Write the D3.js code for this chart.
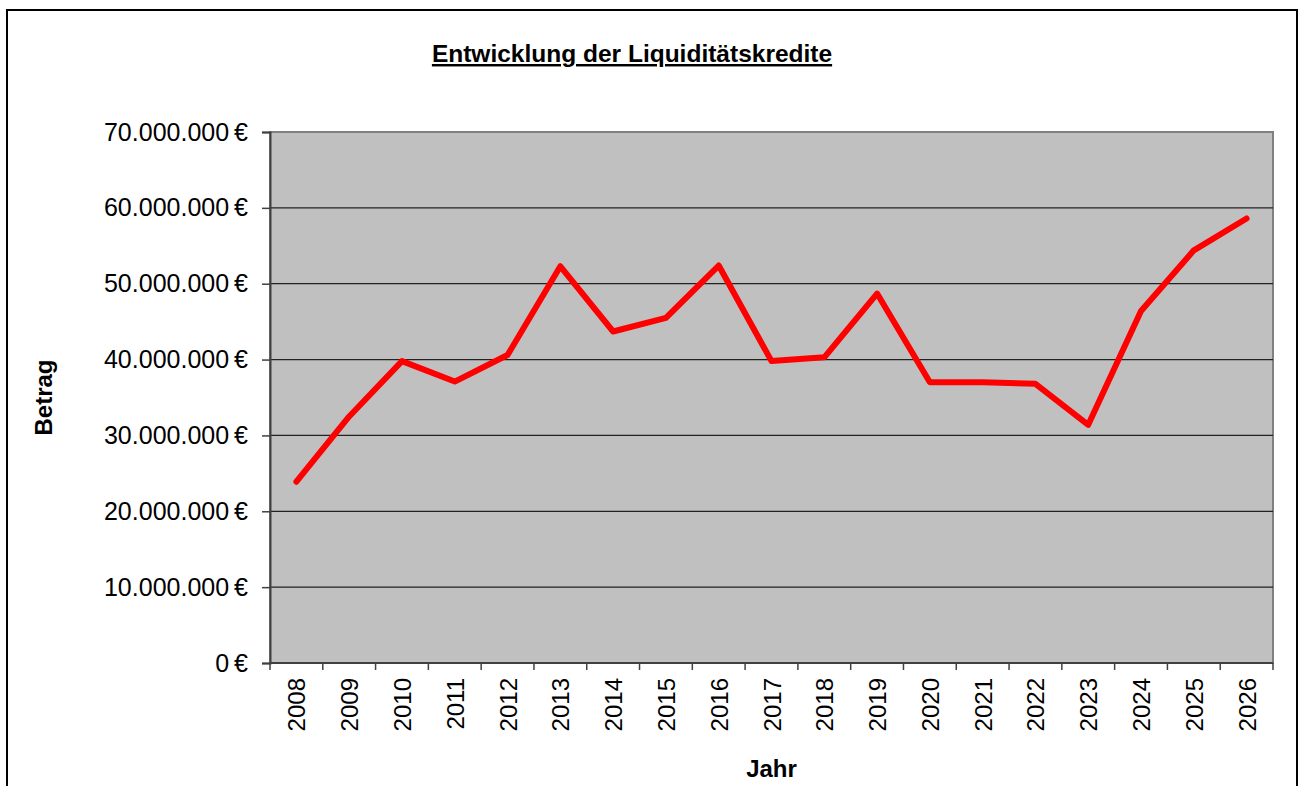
<!DOCTYPE html>
<html>
<head>
<meta charset="utf-8">
<script src="https://cdn.jsdelivr.net/npm/d3@7"></script>
<style>
  body { margin: 0; background: #fff; }
  svg { display: block; font-family: "Liberation Sans", Arial, sans-serif; }
</style>
</head>
<body>
<svg id="chart"></svg>
<script>
// data
let years = ["2008", "2009", "2010", "2011", "2012", "2013", "2014", "2015", "2016", "2017",
  "2018", "2019", "2020", "2021", "2022", "2023", "2024", "2025", "2026"];
let amounts = [23900000, 32500000, 39800000, 37100000, 40600000, 52300000, 43700000, 45500000,
  52400000, 39800000, 40300000, 48700000, 37000000, 37000000, 36800000, 31400000, 46400000,
  54400000, 58600000];
let yTicks = [0, 10000000, 20000000, 30000000, 40000000, 50000000, 60000000, 70000000];

let width = 1303;
let height = 786;
let plot = { left: 270, right: 1273, top: 132, bottom: 663 };

let svg = d3.select("#chart").attr("width", width).attr("height", height);

// outer frame (bottom edge is cut off in the reference)
svg.append("path")
  .attr("d", "M7," + (height + 5) + "V10H1297V" + (height + 5))
  .attr("fill", "none").attr("stroke", "#000").attr("stroke-width", 2);

let de = d3.formatLocale({ decimal: ",", thousands: ".", grouping: [3], currency: ["", " €"] });
let fmt = de.format(",.0f");

let x = d3.scaleBand().domain(years).range([plot.left, plot.right]).padding(0);
let y = d3.scaleLinear().domain([0, 70000000]).range([plot.bottom, plot.top]);

// plot background
svg.append("rect")
  .attr("x", plot.left).attr("y", plot.top)
  .attr("width", plot.right - plot.left).attr("height", plot.bottom - plot.top)
  .attr("fill", "#c0c0c0").attr("stroke", "#808080").attr("stroke-width", 2);

// gridlines
svg.append("g").selectAll("line").data(yTicks.filter(d => d > 0 && d < 70000000)).enter()
  .append("line")
  .attr("x1", plot.left).attr("x2", plot.right)
  .attr("y1", d => y(d)).attr("y2", d => y(d))
  .attr("stroke", "#222").attr("stroke-width", 1.3);

// y axis
let yAxis = svg.append("g")
  .attr("transform", "translate(" + plot.left + ",0)")
  .call(d3.axisLeft(y).tickValues(yTicks).tickSize(8).tickPadding(14)
    .tickFormat(d => fmt(d) + "\u2009€"));
yAxis.select(".domain").attr("stroke", "#404040").attr("stroke-width", 2);
yAxis.selectAll(".tick line").attr("stroke", "#404040").attr("stroke-width", 1.5);
yAxis.selectAll(".tick text").attr("font-size", 25).attr("fill", "#000")
  .attr("font-family", "Liberation Sans, Arial, sans-serif");

// x axis: ticks between categories
let xAxis = svg.append("g")
  .attr("transform", "translate(0," + plot.bottom + ")");
xAxis.append("line")
  .attr("x1", plot.left).attr("x2", plot.right)
  .attr("stroke", "#404040").attr("stroke-width", 2);
xAxis.selectAll("line.tick").data(years.concat(["end"])).enter()
  .append("line").attr("class", "tick")
  .attr("x1", (d, i) => i < years.length ? x(d) : plot.right)
  .attr("x2", (d, i) => i < years.length ? x(d) : plot.right)
  .attr("y1", 0).attr("y2", 7)
  .attr("stroke", "#404040").attr("stroke-width", 1.5);
xAxis.selectAll("text").data(years).enter()
  .append("text")
  .attr("transform", d => "translate(" + (x(d) + x.bandwidth() / 2 + 9) + ",15) rotate(-90)")
  .attr("text-anchor", "end")
  .attr("font-size", 24)
  .text(d => d);

// the line
let line = d3.line()
  .x((d, i) => x(years[i]) + x.bandwidth() / 2)
  .y(d => y(d));
svg.append("path")
  .datum(amounts)
  .attr("d", line)
  .attr("fill", "none")
  .attr("stroke", "#ff0000")
  .attr("stroke-width", 6)
  .attr("stroke-linejoin", "round")
  .attr("stroke-linecap", "round");

// titles
svg.append("text")
  .attr("x", 632).attr("y", 62)
  .attr("text-anchor", "middle")
  .attr("font-size", 24.5).attr("font-weight", "bold")
  .attr("text-decoration", "underline")
  .text("Entwicklung der Liquiditätskredite");

svg.append("text")
  .attr("x", (plot.left + plot.right) / 2).attr("y", 777)
  .attr("text-anchor", "middle")
  .attr("font-size", 24).attr("font-weight", "bold")
  .text("Jahr");

svg.append("text")
  .attr("transform", "translate(52," + ((plot.top + plot.bottom) / 2) + ") rotate(-90)")
  .attr("text-anchor", "middle")
  .attr("font-size", 24).attr("font-weight", "bold")
  .text("Betrag");
</script>
</body>
</html>
